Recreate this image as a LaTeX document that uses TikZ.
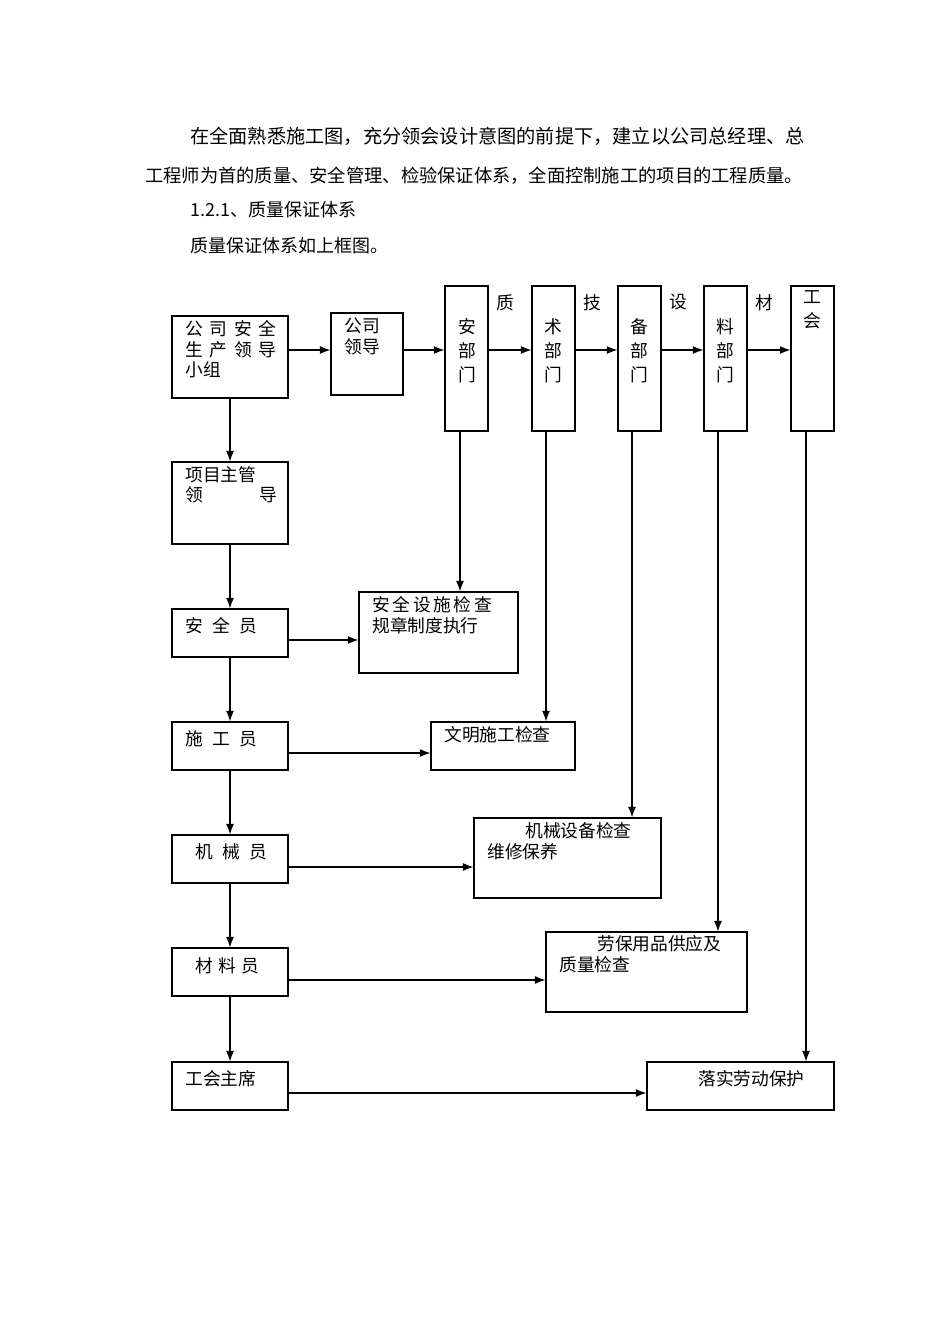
\documentclass[tikz,border=0pt]{standalone}
\usepackage{fontspec}
\setmainfont{Noto Sans CJK SC}
\usetikzlibrary{arrows.meta}
\begin{document}
\begin{tikzpicture}[x=0.75pt,y=-0.75pt,
  box/.style={draw,line width=0.8pt},
  t/.style={anchor=north west,inner sep=0pt,align=left,font=\fontsize{13.3}{15.5}\selectfont},
  col/.style={anchor=north,inner sep=0pt,align=center,font=\fontsize{13.3}{18}\selectfont},
  ar/.style={line width=0.9pt,-{Latex[length=8pt,width=6pt]}},
  ln/.style={line width=0.9pt}]
\useasboundingbox (0,0) rectangle (950,1344);
% top text
\node[anchor=west,inner sep=0pt,font=\fontsize{14.4}{16}\selectfont] (p1) at (190,136) {在全面熟悉施工图，充分领会设计意图的前提下，建立以公司总经理、总};
\node[anchor=west,inner sep=0pt,font=\fontsize{13.7}{16}\selectfont] (p2) at (145,176) {工程师为首的质量、安全管理、检验保证体系，全面控制施工的项目的工程质量。};
\node[anchor=west,inner sep=0pt,font=\fontsize{13.5}{16}\selectfont] (p3) at (190,210) {1.2.1、质量保证体系};
\node[anchor=west,inner sep=0pt,font=\fontsize{13.5}{16}\selectfont] (p4) at (190,246) {质量保证体系如上框图。};
% boxes
\def\bx#1#2#3#4#5{\node[box,minimum width={(#4-#2)*0.75pt},minimum height={(#5-#3)*0.75pt},inner sep=0pt] (#1) at ({(#2+#4)/2},{(#3+#5)/2}) {};}
\bx{A}{172}{316}{288}{398}
\bx{B}{331}{313}{403}{395}
\bx{C1}{445}{286}{488}{431}
\bx{C2}{532}{286}{575}{431}
\bx{C3}{618}{286}{661}{431}
\bx{C4}{704}{286}{747}{431}
\bx{C5}{791}{286}{834}{431}
\bx{L1}{172}{462}{288}{544}
\bx{L2}{172}{609}{288}{657}
\bx{L3}{172}{722}{288}{770}
\bx{L4}{172}{835}{288}{883}
\bx{L5}{172}{948}{288}{996}
\bx{L6}{172}{1062}{288}{1110}
\bx{R2}{359}{592}{518}{673}
\bx{R3}{431}{722}{575}{770}
\bx{R4}{474}{818}{661}{898}
\bx{R5}{546}{932}{747}{1012}
\bx{R6}{647}{1062}{834}{1110}
% thicker right/bottom edges
\foreach \n in {R2,R3,R4,R5,R6}{\draw[line width=1.4pt] (\n.north east)--(\n.south east)--(\n.south west);}
% texts
\node[t] (tA) at (185,320) {公\hspace{5pt}司\hspace{5pt}安\hspace{5pt}全\\生\hspace{5pt}产\hspace{5pt}领\hspace{5pt}导\\小组};
\node[t] (tB) at (344,318) {公司\\领导};
\node[col] (t1) at (467,318) {安\\部\\门};
\node[col] (t2) at (553,318) {术\\部\\门};
\node[col] (t3) at (639,318) {备\\部\\门};
\node[col] (t4) at (725,318) {料\\部\\门};
\node[col] (t5) at (812,290) {工\\会};
\node[t] (q1) at (496,294) {质};
\node[t] (q2) at (583,294) {技};
\node[t] (q3) at (669,294) {设};
\node[t] (q4) at (755,294) {材};
\node[t] (tL1) at (185,466) {项目主管\\领\hspace{42pt}导};
\node[t] (tL2) at (185,617) {安\hspace{7pt}全\hspace{7pt}员};
\node[t] (tL3) at (185,730) {施\hspace{7pt}工\hspace{7pt}员};
\node[t] (tL4) at (195,843) {机\hspace{7pt}械\hspace{7pt}员};
\node[t] (tL5) at (195,957) {材\hspace{4pt}料\hspace{4pt}员};
\node[t] (tL6) at (185,1070) {工会主席};
\node[t] (tR2) at (372,596) {安\hspace{2pt}全\hspace{2pt}设\hspace{2pt}施\hspace{2pt}检\hspace{2pt}查\\规章制度执行};
\node[t] (tR3) at (444,726) {文明施工检查};
\node[t] (tR4a) at (525,822) {机械设备检查};
\node[t] (tR4b) at (487,843) {维修保养};
\node[t] (tR5a) at (597,935) {劳保用品供应及};
\node[t] (tR5b) at (559,956) {质量检查};
\node[t] (tR6) at (698,1070) {落实劳动保护};
% top arrows
\draw[ar] (A.east |- 0,350) -- (B.west |- 0,350);
\draw[ar] (B.east |- 0,350) -- (C1.west |- 0,350);
\draw[ar] (C1.east |- 0,350) -- (C2.west |- 0,350);
\draw[ar] (C2.east |- 0,350) -- (C3.west |- 0,350);
\draw[ar] (C3.east |- 0,350) -- (C4.west |- 0,350);
\draw[ar] (C4.east |- 0,350) -- (C5.west |- 0,350);
% left column
\draw[ar] (A.south) -- (L1.north);
\draw[ar] (L1.south) -- (L2.north);
\draw[ar] (L2.south) -- (L3.north);
\draw[ar] (L3.south) -- (L4.north);
\draw[ar] (L4.south) -- (L5.north);
\draw[ar] (L5.south) -- (L6.north);
% horizontal to right boxes
\draw[ar] (L2.east |- 0,640) -- (R2.west |- 0,640);
\draw[ar] (L3.east |- 0,753) -- (R3.west |- 0,753);
\draw[ar] (L4.east |- 0,867) -- (R4.west |- 0,867);
\draw[ar] (L5.east |- 0,980) -- (R5.west |- 0,980);
\draw[ar] (L6.east |- 0,1093) -- (R6.west |- 0,1093);
% verticals from departments
\draw[ar] (C1.south -| 460,0) -- (R2.north -| 460,0);
\draw[ar] (C2.south -| 546,0) -- (R3.north -| 546,0);
\draw[ar] (C3.south -| 632,0) -- (R4.north -| 632,0);
\draw[ar] (C4.south -| 718,0) -- (R5.north -| 718,0);
\draw[ar] (C5.south -| 806,0) -- (R6.north -| 806,0);
\end{tikzpicture}
\end{document}
